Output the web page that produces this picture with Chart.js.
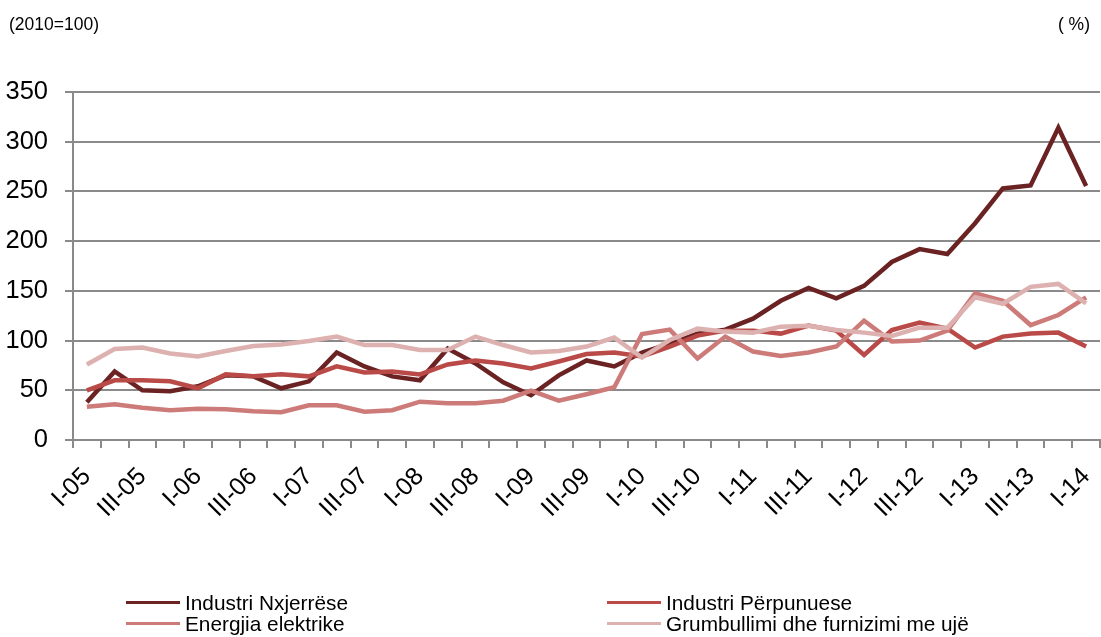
<!DOCTYPE html>
<html>
<head>
<meta charset="utf-8">
<script src="https://cdn.jsdelivr.net/npm/chart.js@4"></script>
<style>
  html, body { margin: 0; padding: 0; background: #fff; }
  #wrap { position: relative; width: 1101px; height: 637px; font-family: "Liberation Sans", Arial, sans-serif; color: #000; }
  #c { position: absolute; left: 0; top: 0; }
  .note { position: absolute; top: 12px; font-size: 17.5px; line-height: 24px; }
  .leg { position: absolute; display: flex; align-items: center; font-size: 20.8px; line-height: 21px; white-space: nowrap; }
  .leg span.ln { display: inline-block; width: 54px; height: 3px; margin-right: 5px; }
</style>
</head>
<body>
<div id="wrap">
  <canvas id="c" width="1101" height="637"></canvas>
  <div class="note" style="left:9px;">(2010=100)</div>
  <div class="note" style="right:11px;">( %)</div>
  <div id="legend"></div>
</div>
<script>
const categories = [
  'I-05','II-05','III-05','IV-05','I-06','II-06','III-06','IV-06',
  'I-07','II-07','III-07','IV-07','I-08','II-08','III-08','IV-08',
  'I-09','II-09','III-09','IV-09','I-10','II-10','III-10','IV-10',
  'I-11','II-11','III-11','IV-11','I-12','II-12','III-12','IV-12',
  'I-13','II-13','III-13','IV-13','I-14'
];
const seriesNames = ['Industri Nxjerrëse', 'Industri Përpunuese', 'Energjia elektrike', 'Grumbullimi dhe furnizimi me ujë'];
const nxjerrese = [38, 69, 50, 49, 54, 65, 64, 52, 59, 88, 74, 64, 60, 92, 77, 58, 45, 65, 80, 74, 88, 97, 107, 111, 122, 140, 153, 142.5, 155, 179, 192, 187, 218, 253, 256, 314, 255.5];
const perpunuese = [50, 60, 60, 59, 52, 66, 64, 66, 64, 74, 68, 69, 66, 76, 80, 77, 72, 79, 86.5, 88, 84, 94, 105, 110, 110, 107, 115, 110, 85.5, 110.6, 118, 112, 93, 104, 107, 108, 94];
const energjia = [33.5, 36, 32.5, 30, 31.5, 31, 29, 28, 35, 35, 28.5, 30, 38.5, 37, 37, 39.5, 49.6, 39.5, 46, 53, 106.6, 111, 82, 104, 89, 84.5, 88, 94, 120, 99, 100, 110, 147.5, 140, 115.6, 125.7, 143.5];
const grumbullimi = [76, 91.5, 93, 87, 84, 89.5, 94.5, 96, 99.5, 104, 95.5, 95.5, 90.5, 90.5, 104, 95.5, 88, 89.5, 94, 103, 83, 100.6, 112, 109, 108, 114, 115, 110.6, 108, 104.6, 113, 113, 143.5, 137, 154, 157, 137.5];
const yTicks = [0, 50, 100, 150, 200, 250, 300, 350];
const colors = ['#6b2223', '#b94a47', '#cd7b79', '#ddb1b0'];
const seriesData = [nxjerrese, perpunuese, energjia, grumbullimi];

const datasets = seriesData.map((d, i) => ({
  label: seriesNames[i],
  data: d,
  borderColor: colors[i],
  backgroundColor: colors[i],
  borderWidth: 4.5,
  pointRadius: 0,
  tension: 0,
  fill: false,
  order: 4 - i
}));

new Chart(document.getElementById('c'), {
  type: 'line',
  data: { labels: categories, datasets },
  options: {
    responsive: false,
    devicePixelRatio: 1,
    animation: false,
    layout: { padding: { top: 92, right: 1, left: 0, bottom: 0 } },
    plugins: { legend: { display: false }, tooltip: { enabled: false } },
    scales: {
      x: {
        type: 'category',
        offset: true,
        grid: { display: true, drawOnChartArea: false, drawTicks: true, tickLength: 8, color: '#8a8a8a', lineWidth: 2, offset: true },
        border: { display: true, color: '#8a8a8a', width: 2 },
        ticks: {
          autoSkip: false, maxRotation: 45, minRotation: 45, padding: 14,
          color: '#000', font: { family: 'Liberation Sans', size: 25 },
          callback: function(v, i) { return i % 2 === 0 ? categories[i] : ''; }
        },
        afterFit: function(s) { s.height = 197; s.paddingLeft = 0; s.paddingRight = 0; }
      },
      y: {
        min: 0, max: 350,
        afterBuildTicks: function(s) { s.ticks = yTicks.map(v => ({ value: v })); },
        grid: { color: '#8a8a8a', lineWidth: 2, tickLength: 8, drawTicks: true },
        border: { display: true, color: '#8a8a8a', width: 2 },
        ticks: { color: '#000', padding: 17, font: { family: 'Liberation Sans', size: 25.5 } },
        afterFit: function(s) { s.width = 73; s.paddingTop = 0; s.paddingBottom = 0; }
      }
    }
  }
});

// HTML legend in two columns
const legendPos = [[126, 602], [607, 602], [126, 623], [607, 623]];
const legendEl = document.getElementById('legend');
seriesNames.forEach((name, i) => {
  const d = document.createElement('div');
  d.className = 'leg';
  d.style.left = legendPos[i][0] + 'px';
  d.style.top = (legendPos[i][1] - 10.5) + 'px';
  d.innerHTML = '<span class="ln" style="background:' + colors[i] + '"></span><span></span>';
  d.lastChild.textContent = name;
  legendEl.appendChild(d);
});
</script>
</body>
</html>
